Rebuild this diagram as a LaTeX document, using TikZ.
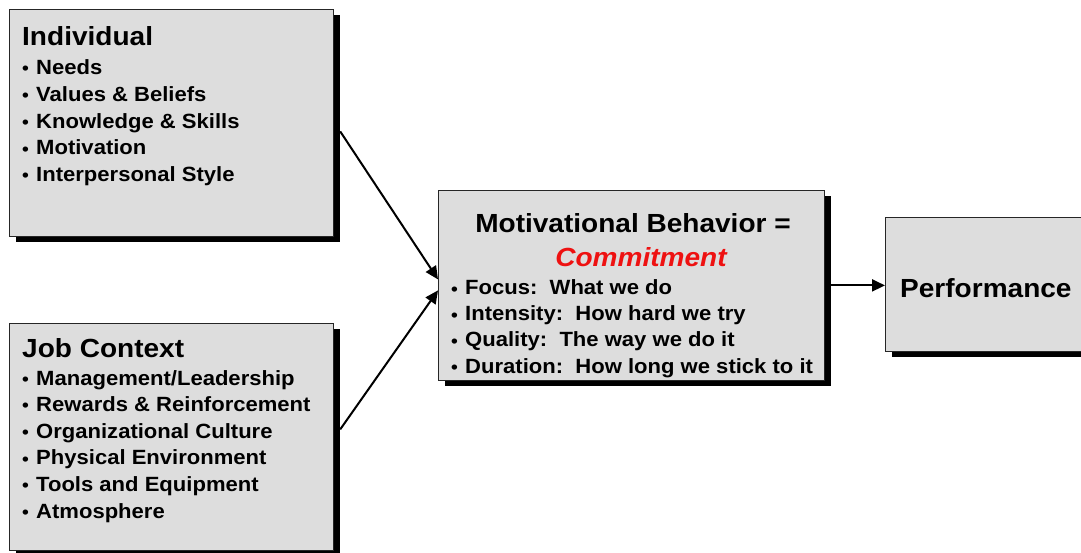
\documentclass[tikz,border=0pt]{standalone}
\usepackage{fontspec}
\setmainfont{Liberation Sans}[FakeStretch=1.07]
\usetikzlibrary{arrows.meta,calc,shadows}
\definecolor{boxfill}{HTML}{DDDDDD}
\definecolor{commitred}{HTML}{EE1111}
\newcommand\bul{\makebox[14pt][l]{\fontsize{18}{18}\selectfont\raisebox{-0.3pt}{•}}}
\begin{document}
\begin{tikzpicture}[x=1pt,y=1pt,
  box/.style={draw=black!85, line width=1.2pt, fill=boxfill, inner sep=0,
    drop shadow={shadow xshift=6pt, shadow yshift=-6pt, fill=black, opacity=1}},
  title/.style={font=\fontsize{26.2}{30}\selectfont\bfseries, inner sep=0},
  item/.style={font=\fontsize{20.6}{24}\selectfont\bfseries, inner sep=0, anchor=base west},
  conn/.style={line width=2pt, -{Triangle[length=13pt,width=12pt]}}]
\clip (0,0) rectangle (1081,552);
\useasboundingbox (0,0) rectangle (1081,552);

% boxes
\node[box, minimum width=324, minimum height=227, anchor=south west] (ind) at (9,315) {};
\node[box, minimum width=324, minimum height=227, anchor=south west] (job) at (9,1) {};
\node[box, minimum width=386, minimum height=190, anchor=south west] (mot) at (438,171) {};
\node[box, minimum width=230, minimum height=134, anchor=south west] (perf) at (885,200) {};

% Individual
\node[title, anchor=base west] (indT) at (22,506) {Individual};
\foreach \t [count=\i] in {Needs, Values \& Beliefs, Knowledge \& Skills, Motivation, Interpersonal Style}
  \node[item] (ind\i) at (22,{477.5-26.8*(\i-1)}) {\bul\t};

% Job Context
\node[title, anchor=base west] (jobT) at (22,195) {Job Context};
\foreach \t [count=\i] in {Management/Leadership, Rewards \& Reinforcement, Organizational Culture, Physical Environment, Tools and Equipment, Atmosphere}
  \node[item] (job\i) at (22,{167-26.6*(\i-1)}) {\bul\t};

% Motivational behavior
\node[title, anchor=base] (motT) at (633,319) {Motivational Behavior =};
\node[title, anchor=base, text=commitred, font=\fontsize{26.2}{30}\selectfont\bfseries\itshape] (com) at (641,285) {Commitment};
\foreach \t [count=\i] in {Focus:\ \ What we do, Intensity:\ \ How hard we try, Quality:\ \ The way we do it, Duration:\ \ How long we stick to it}
  \node[item] (mot\i) at (451,{257-26*(\i-1)}) {\bul\t};

% Performance
\node[title, anchor=base west] (perfT) at (900,254) {Performance};

% connectors
\draw[conn] ($(ind.east)+(6,-8.5)$) -- ($(mot.west)+(0,6)$);
\draw[conn] ($(job.east)+(6,7.5)$) -- ($(mot.west)+(0,-5)$);
\draw[conn] ($(mot.east)+(6,0)$) -- (mot.east -| perf.west);
\end{tikzpicture}
\end{document}
